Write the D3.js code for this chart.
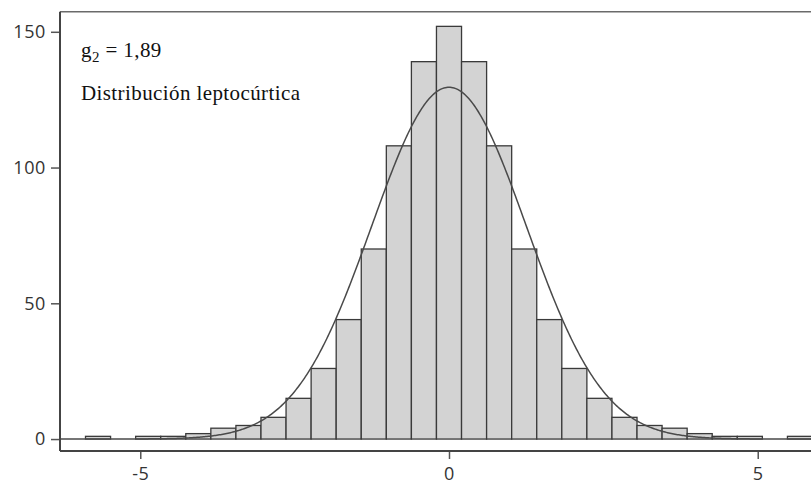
<!DOCTYPE html>
<html>
<head>
<meta charset="utf-8">
<script src="https://cdn.jsdelivr.net/npm/d3@7/dist/d3.min.js"></script>
<style>
  body { margin: 0; background: #fff; }
  svg { display: block; }
</style>
</head>
<body>
<svg id="chart" width="811" height="485"></svg>
<script>
// Histogram bins: first left edge and common width, then the count in each bin
const binStart = -5.887;
const binWidth = 0.406;
const counts = [1, 0, 1, 1, 2, 4, 5, 8, 15, 26, 44, 70, 108, 139, 152,
                139, 108, 70, 44, 26, 15, 8, 5, 4, 2, 1, 1, 0, 1];

// Fitted normal curve parameters
const fitMean = 0;
const fitSd = 1.25;
const sampleSize = 1000;

// Axis ticks
const xTicks = [-5, 0, 5];
const yTicks = [0, 50, 100, 150];

// Annotation text
const kurtosisValue = "1,89";
const shapeLabel = "Distribución leptocúrtica";

const svg = d3.select("#chart");

const frame = { left: 60, right: 838, top: 11.7, bottom: 451 };

const x = d3.scaleLinear().domain([-6.3, 6.3]).range([frame.left, frame.right]);
const y = d3.scaleLinear().domain([-4.4, 157.4]).range([frame.bottom, frame.top]);

const bins = counts.map((c, i) => ({
  x0: binStart + i * binWidth,
  x1: binStart + (i + 1) * binWidth,
  count: c
}));

// Bars
svg.append("g")
  .selectAll("rect")
  .data(bins.filter(d => d.count > 0))
  .join("rect")
  .attr("x", d => x(d.x0))
  .attr("width", d => x(d.x1) - x(d.x0))
  .attr("y", d => y(d.count))
  .attr("height", d => y(0) - y(d.count))
  .attr("fill", "#d3d3d3")
  .attr("stroke", "#3a3a3a")
  .attr("stroke-width", 1.3);

// Normal density scaled to counts per bin
const dens = v => sampleSize * binWidth / (fitSd * Math.sqrt(2 * Math.PI)) *
  Math.exp(-((v - fitMean) ** 2) / (2 * fitSd * fitSd));
const curvePts = d3.range(-6.3, 6.3001, 0.02).map(v => [v, dens(v)]);

svg.append("path")
  .datum(curvePts)
  .attr("fill", "none")
  .attr("stroke", "#4a4a4a")
  .attr("stroke-width", 1.5)
  .attr("d", d3.line().x(d => x(d[0])).y(d => y(d[1])));

// Frame
const fr = svg.append("g").attr("fill", "none");
fr.append("line").attr("x1", frame.left).attr("x2", frame.right)
  .attr("y1", frame.top).attr("y2", frame.top)
  .attr("stroke", "#6a6a6a").attr("stroke-width", 1.5);
fr.append("line").attr("x1", frame.left).attr("x2", frame.left)
  .attr("y1", frame.top).attr("y2", frame.bottom)
  .attr("stroke", "#444").attr("stroke-width", 2);
fr.append("line").attr("x1", frame.left).attr("x2", frame.right)
  .attr("y1", frame.bottom).attr("y2", frame.bottom)
  .attr("stroke", "#444").attr("stroke-width", 2);

// Axes
const axisFont = "'Open Sans', sans-serif";
const yAxis = svg.append("g")
  .attr("transform", `translate(${frame.left - 1},0)`)
  .call(d3.axisLeft(y).tickValues(yTicks).tickSize(8).tickPadding(5));
const xAxis = svg.append("g")
  .attr("transform", `translate(0,${frame.bottom + 1})`)
  .call(d3.axisBottom(x).tickValues(xTicks).tickSize(7).tickPadding(8)
    .tickFormat(d => d < 0 ? "-" + Math.abs(d) : String(d)));
[yAxis, xAxis].forEach(a => {
  a.select(".domain").remove();
  a.selectAll(".tick line").attr("stroke", "#555").attr("stroke-width", 1.5);
  a.selectAll(".tick text").attr("fill", "#333")
    .style("font-family", axisFont).style("font-size", "18px")
    .style("letter-spacing", "0.6px");
});

// Annotation
const note = svg.append("g")
  .style("font-family", "'Liberation Serif', 'Times New Roman', serif")
  .style("letter-spacing", "0.4px")
  .attr("fill", "#111");
const t1 = note.append("text").attr("x", 81).attr("y", 56.5).style("font-size", "21px");
t1.append("tspan").text("g");
t1.append("tspan").attr("dy", 5).style("font-size", "15px").text("2");
t1.append("tspan").attr("dy", -5).text(" = " + kurtosisValue);
note.append("text").attr("x", 81).attr("y", 100).style("font-size", "21px").text(shapeLabel);
</script>
</body>
</html>
